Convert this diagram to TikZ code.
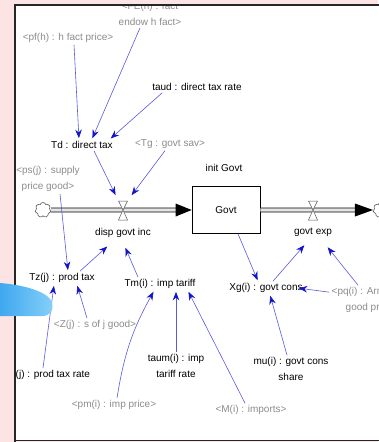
\documentclass[tikz,border=0pt]{standalone}
\usepackage{fontspec}
\setmainfont{Liberation Sans}
\usetikzlibrary{arrows.meta,shapes.symbols}
\definecolor{pinkbg}{HTML}{FCE4E4}
\definecolor{lbl}{HTML}{8C8C8C}
\definecolor{arr}{HTML}{5A5AE0}
\definecolor{arrhead}{HTML}{1414CC}
\definecolor{blobL}{HTML}{3FA8F0}
\definecolor{blobR}{HTML}{86D0F8}
\begin{document}
\begin{tikzpicture}[x=1pt,y=-1pt,
  font=\fontsize{10}{12}\selectfont,
  var/.style={inner sep=2pt, text=black},
  shadowvar/.style={inner sep=2pt, text=lbl},
  twoline/.style={align=center, font=\fontsize{10}{16}\selectfont},
  link/.style={draw=arr, line width=0.6pt, shorten >=1pt,
    -{Stealth[length=8.5pt,width=6.5pt,color=arrhead]}},
  pipe/.style={draw=black, double=gray!20, double distance=3.2pt, line width=0.7pt},
  valvepart/.style={draw=gray!70!black, fill=white, line width=0.5pt},
  cloudsym/.style={cloud, cloud puffs=7, draw=gray!70!black, fill=white,
    minimum width=16pt, minimum height=15pt, inner sep=0pt, line width=0.6pt},
  stockbox/.style={draw=black, line width=0.7pt, fill=white,
    minimum width=68pt, minimum height=47pt, inner sep=0pt},
]
\useasboundingbox (0,0) rectangle (378,442);
\fill[pinkbg] (0,0) rectangle (378,442);
\fill[white] (15,5) rectangle (380,441);

% ---- stock and flows
\node[stockbox] (G) at (226,210) {Govt};
\node[var] (init) at (224,168) {init Govt};
\node[cloudsym] (c1) at (43,210) {};
\node[cloudsym] (c2) at (381,210) {};

\draw[pipe] (c1.east) -- ([xshift=-14pt]G.west);
\fill[black] ([xshift=-16pt,yshift=6.5pt]G.west) -- (G.west) -- ([xshift=-16pt,yshift=-6.5pt]G.west) -- cycle;
\draw[pipe] (G.east) -- ([xshift=-14pt]c2.west);
\fill[black] ([xshift=-18pt,yshift=6.5pt]c2.west) -- (c2.west) -- ([xshift=-18pt,yshift=-6.5pt]c2.west) -- cycle;

\coordinate (v1) at (123,210);
\coordinate (v2) at (313,210);
\foreach \v in {v1,v2}{
  \draw[valvepart] ([xshift=-4.5pt,yshift=9pt]\v) -- ([xshift=4.5pt,yshift=9pt]\v) -- (\v) -- cycle;
  \draw[valvepart] ([xshift=-4.5pt,yshift=-10pt]\v) -- ([xshift=4.5pt,yshift=-10pt]\v) -- (\v) -- cycle;
}
\node[var] (disp) at (123,233) {disp govt inc};
\node[var] (gexp) at (313,232) {govt exp};

% ---- variables
\node[shadowvar] (pf) at (68,38) {<pf(h) : h fact price>};
\node[shadowvar, twoline] (fe) at (150,14) {<FE(h) : fact\\endow h fact>};
\node[var] (taud) at (197,87) {taud : direct tax rate};
\node[var] (Td) at (82,145) {Td : direct tax};
\node[shadowvar] (Tg) at (170,144) {<Tg : govt sav>};
\node[shadowvar, twoline] (ps) at (48,179) {<ps(j) : supply\\price good>};
\node[var] (Tz) at (62,278) {Tz(j) : prod tax};
\node[var] (Tm) at (160,284) {Tm(i) : imp tariff};
\node[var] (Xg) at (266,288) {Xg(i) : govt cons};
\node[shadowvar, twoline] (pq) at (372,300) {<pq(i) : Armington\\good price>};
\node[shadowvar] (Z) at (95,325) {<Z(j) : s of j good>};
\node[var] (tzr) at (49,375) {tz(j) : prod tax rate};
\node[shadowvar] (pm) at (114,405) {<pm(i) : imp price>};
\node[var, twoline] (taum) at (176,366) {taum(i) : imp\\tariff rate};
\node[shadowvar] (M) at (251,410) {<M(i) : imports>};
\node[var, twoline] (mu) at (291,369) {mu(i) : govt cons\\share};

\coordinate (vt1l) at (116,196);
\coordinate (vt1r) at (131,196);

% ---- links
\draw[link] ([xshift=6pt]pf.south) -- ([xshift=-3pt]Td.north);
\draw[link] ([xshift=-10pt]fe.south) -- ([xshift=10pt]Td.north);
\draw[link] ([xshift=12pt]taud.south west) -- ([xshift=-5pt]Td.north east);
\draw[link] ([xshift=12pt]Td.south) -- (vt1l);
\draw[link] ([xshift=-5pt]Tg.south) -- (vt1r);
\draw[link] ([xshift=12pt]ps.south) -- ([xshift=6pt]Tz.north);
\draw[link] ([xshift=18pt]Tz.north) -- ([xshift=-15pt,yshift=-6pt]disp.south);
\draw[link] ([xshift=-22pt]Tm.north) -- ([xshift=2pt,yshift=-7pt]disp.south);
\draw[link] ([xshift=-8pt]Z.north) -- ([xshift=15pt]Tz.south);
\draw[link] ([xshift=-6pt]tzr.north) -- ([xshift=-8pt]Tz.south);
\draw[link] ([xshift=3pt]pm.north) to[bend left=10] ([xshift=-6pt]Tm.south);
\draw[link] (taum.north) -- (taum.north |- Tm.south);
\draw[link] ([xshift=-6pt]M.north) -- ([xshift=28pt]Tm.south);
\draw[link] ([xshift=-4pt]mu.north) -- ([xshift=4pt]Xg.south);
\draw[link] ([xshift=12pt]G.south) -- ([xshift=-8pt]Xg.north);
\draw[link] ([xshift=7pt]Xg.north) -- ([xshift=-8pt,yshift=-6pt]gexp.south);
\draw[link] ([xshift=-43pt,yshift=-7pt]pq.north) -- ([xshift=-7pt]Xg.east);
\draw[link] ([xshift=-14pt]pq.north) -- ([xshift=14pt,yshift=-8pt]gexp.south);

% ---- window frame and margins
\fill[pinkbg] (0,0) rectangle (14,442);
\fill[pinkbg] (0,0) rectangle (378,4);
\draw[black!85, line width=1.6pt] (15,442) -- (15,5) -- (380,5);
\draw[black!85, line width=1.6pt] (15,440.5) -- (380,440.5);

% ---- blue blob at left
\shade[left color=blobL, right color=blobR]
  (0,283) .. controls (25,285) and (48,292) .. (52,302)
  .. controls (54,311) and (50,316) .. (42,316) -- (0,316) -- cycle;
\end{tikzpicture}
\end{document}
